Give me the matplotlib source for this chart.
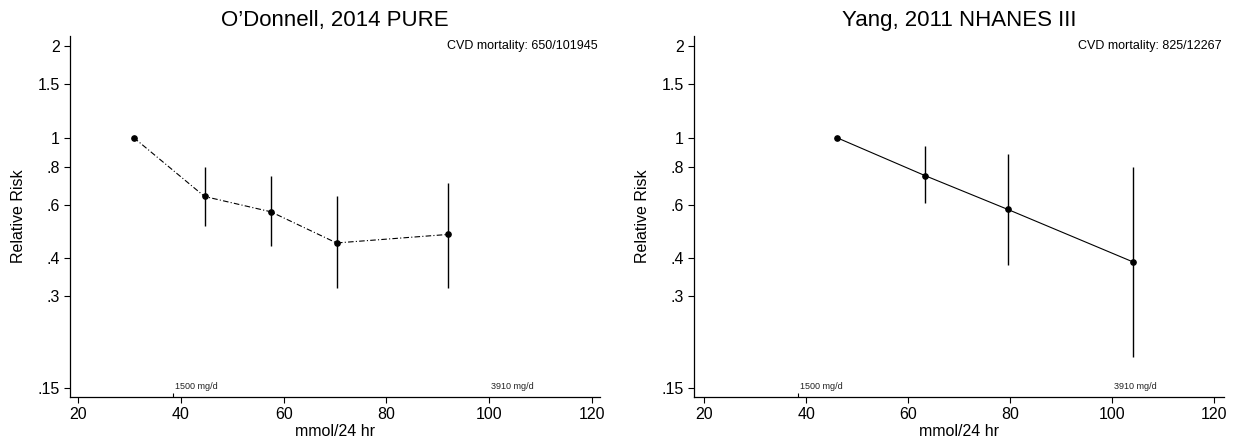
import matplotlib
matplotlib.use("Agg")
import matplotlib.pyplot as plt
from matplotlib.ticker import FixedLocator, NullLocator

plt.rcParams['font.family'] = ['Liberation Sans', 'DejaVu Sans']

# ---- data ----
titles = ["O\u2019Donnell, 2014 PURE", "Yang, 2011 NHANES III"]
mortality = ["CVD mortality: 650/101945", "CVD mortality: 825/12267"]

pure_x = [30.8, 44.6, 57.5, 70.3, 92.0]
pure_rr = [1.0, 0.64, 0.57, 0.45, 0.48]
pure_lo = [None, 0.51, 0.44, 0.32, 0.32]
pure_hi = [None, 0.80, 0.75, 0.64, 0.71]

nh_x = [46.0, 63.3, 79.6, 104.1]
nh_rr = [1.0, 0.75, 0.58, 0.39]
nh_lo = [None, 0.61, 0.38, 0.19]
nh_hi = [None, 0.94, 0.88, 0.80]

yticks = [0.15, 0.3, 0.4, 0.6, 0.8, 1, 1.5, 2]
ytick_labels = [".15", ".3", ".4", ".6", ".8", "1", "1.5", "2"]
xticks = [20, 40, 60, 80, 100, 120]
ref_mmol = [1500 / 39.1, 3910 / 39.1]
ref_labels = ["1500 mg/d", "3910 mg/d"]

W, H = 1243, 443
fig = plt.figure(figsize=(W / 100, H / 100), dpi=100)

panels = [
    (pure_x, pure_rr, pure_lo, pure_hi, (0, (5, 2, 1, 2)), [70, 600], (18.4, 121.6)),
    (nh_x, nh_rr, nh_lo, nh_hi, '-', [694, 1224], (18.0, 122.0)),
]

for i, (xs, rr, lo, hi, ls, (l, r), xl) in enumerate(panels):
    ax = fig.add_axes([l / W, 46 / H, (r - l) / W, 361 / H])
    ax.set_yscale('log')
    ax.set_ylim(0.140, 2.16)
    ax.set_xlim(*xl)
    ax.plot(xs, rr, color='black', linestyle=ls, linewidth=0.8, zorder=2)
    for x, a, b in zip(xs, lo, hi):
        if a is not None:
            ax.vlines(x, a, b, color='black', linewidth=1.0, zorder=2)
    ax.plot(xs, rr, 'o', color='black', markersize=3.8, zorder=3, linestyle='none')

    ax.yaxis.set_major_locator(FixedLocator(yticks))
    ax.yaxis.set_minor_locator(NullLocator())
    ax.set_yticklabels(ytick_labels)
    ax.set_xticks(xticks)
    ax.set_xticks(ref_mmol, minor=True)
    ax.tick_params(axis='both', which='major', direction='out', length=4,
                   width=0.8, labelsize=11.5, colors='black')
    ax.tick_params(axis='x', which='minor', direction='in', length=3, width=0.8)
    for s in ['top', 'right']:
        ax.spines[s].set_visible(False)
    for s in ['left', 'bottom']:
        ax.spines[s].set_linewidth(0.9)

    for x, lab in zip(ref_mmol, ref_labels):
        ax.text(x + 0.4, 0.152, lab, fontsize=6.5, ha='left', va='center', color='#222222')

    ax.text(0.995, 2.0, mortality[i], transform=ax.get_yaxis_transform(),
            fontsize=9, ha='right', va='center')
    ax.set_title(titles[i], fontsize=16, pad=7)
    ax.set_ylabel("Relative Risk", fontsize=11.5, labelpad=8)
    ax.set_xlabel("mmol/24 hr", fontsize=11.5, labelpad=1)

fig.savefig("out.png", dpi=100, facecolor='white')
